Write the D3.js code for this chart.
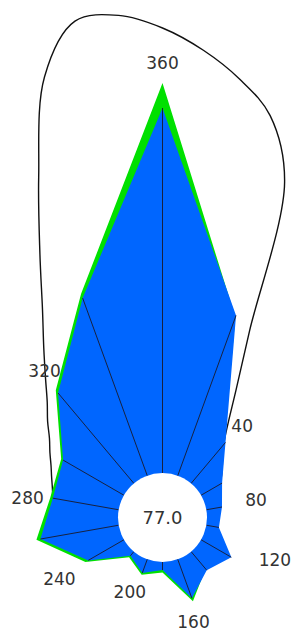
<!DOCTYPE html>
<html>
<head>
<meta charset="utf-8">
<script src="https://cdn.jsdelivr.net/npm/d3@7"></script>
<style>
  body { margin: 0; background: #fff; }
  svg { display: block; }
</style>
</head>
<body>
<svg width="292" height="629"></svg>
<script>
const width = 292;
const height = 629;
const cx = 162.5, cy = 517.5;
const innerR = 44.5;

// direction of each spoke (degrees, clockwise from north)
const angles = [0, 20, 40, 60, 80, 100, 120, 140, 160, 180, 200, 220, 240, 260, 280, 300, 320, 340];

// main series (blue) and second series (green, drawn behind)
const blueValues  = [36.5, 17.05, 5.35, 2.43, 1.59, 1.28, 3.5, 2.43, 4.15, 0.8, 1.45, 0.55, 4.13, 7.95, 6.69, 7.03, 11.8, 18.9];
const greenValues = [39.0, 16.85, 5.15, 2.25, 1.45, 1.15, 3.35, 2.25, 4.45, 1.05, 1.65, 0.75, 4.45, 8.35, 6.95, 7.25, 12.15, 19.35];

// outer envelope line
const envAngles = [280, 285, 290, 295, 300, 305, 310, 315, 320, 325, 330, 335, 340, 345, 350, 355,
                   0, 5, 10, 15, 20, 25, 30, 35, 40, 45, 50, 55, 60];
const envValues = [6.69, 6.95, 7.35, 7.85, 8.55, 9.35, 10.55, 11.85, 13.75, 16.25, 19.55, 24.55, 31.75, 41.15, 45.95, 45.95,
                   44.5, 42.45, 40.05, 37.15, 31.25, 16.15, 10.25, 6.95, 5.05, 4.05, 3.35, 2.75, 2.15];

// angle tick labels
const tickAngles = [0, 40, 80, 120, 160, 200, 240, 280, 320];
const tickLabels = ["360", "40", "80", "120", "160", "200", "240", "280", "320"];
const centerValue = 77.0;

// small label nudges (px) so they sit like the original
const labelNudge = [[0, -0.5], [3.8, -1], [14.3, -3.5], [26.3, -7.8], [-6.3, 1.5], [-5, -2], [-8.7, 7], [-3, 3.3], [1.6, -4]];

const rad = d => d * Math.PI / 180;

const r = d3.scaleLinear()
  .domain([0, 40])
  .range([innerR, innerR + 400]);

const svg = d3.select("svg");
const g = svg.append("g").attr("transform", `translate(${cx},${cy})`);

const blue = angles.map((a, i) => ({ angle: a, value: blueValues[i] }));
const green = angles.map((a, i) => ({ angle: a, value: greenValues[i] }));
const env = envAngles.map((a, i) => ({ angle: a, value: envValues[i] }));

const radial = d3.lineRadial()
  .angle(d => rad(d.angle))
  .radius(d => r(d.value));

// envelope curve
g.append("path")
  .datum(env)
  .attr("d", radial.curve(d3.curveCatmullRom))
  .attr("fill", "none")
  .attr("stroke", "#111")
  .attr("stroke-width", 1.4);

const poly = d3.lineRadial()
  .angle(d => rad(d.angle))
  .radius(d => r(d.value))
  .curve(d3.curveLinearClosed);

g.append("path")
  .datum(green)
  .attr("d", poly)
  .attr("fill", "#00e000");

g.append("path")
  .datum(blue)
  .attr("d", poly)
  .attr("fill", "#0066ff");

// spokes
const spoke = d3.lineRadial().angle(d => d[0]).radius(d => d[1]);
g.selectAll(".spoke")
  .data(blue)
  .join("path")
  .attr("class", "spoke")
  .attr("d", d => spoke([[rad(d.angle), innerR], [rad(d.angle), r(d.value)]]))
  .attr("stroke", "#1a1a2a")
  .attr("stroke-width", 0.9);

// centre disc
g.append("circle")
  .attr("r", innerR)
  .attr("fill", "#fff");

g.append("text")
  .attr("text-anchor", "middle")
  .attr("dy", "0.36em")
  .attr("font-family", "DejaVu Sans")
  .attr("font-size", 18)
  .attr("fill", "#333")
  .text(d3.format(".1f")(centerValue));

// angle labels
g.selectAll(".lbl")
  .data(tickAngles)
  .join("text")
  .attr("class", "lbl")
  .attr("text-anchor", "middle")
  .attr("dy", "0.36em")
  .attr("font-family", "DejaVu Sans")
  .attr("font-size", 17)
  .attr("fill", "#333")
  .attr("x", (a, i) => {
    const k = angles.indexOf(a);
    const rr = Math.max(r(blueValues[k]), r(greenValues[k])) + 20;
    return rr * Math.sin(rad(a)) + labelNudge[i][0];
  })
  .attr("y", (a, i) => {
    const k = angles.indexOf(a);
    const rr = Math.max(r(blueValues[k]), r(greenValues[k])) + 20;
    return -rr * Math.cos(rad(a)) + labelNudge[i][1];
  })
  .text((a, i) => tickLabels[i]);
</script>
</body>
</html>
